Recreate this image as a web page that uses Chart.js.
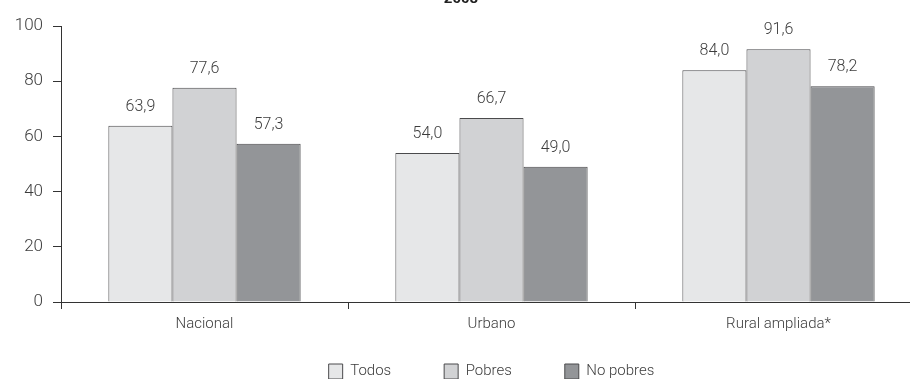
<!DOCTYPE html>
<html>
<head>
<meta charset="utf-8">
<script src="https://cdn.jsdelivr.net/npm/chart.js@4.4.1/dist/chart.umd.min.js"></script>
<style>
  html, body { margin: 0; padding: 0; background: #fff; overflow: hidden; width: 910px; height: 379px; }
  #wrap { position: absolute; left: 0; top: -10px; width: 934px; height: 427px; }
</style>
</head>
<body>
<div id="wrap"><canvas id="c"></canvas></div>
<script>
const titleText = '2008';
const categories = ['Nacional', 'Urbano', 'Rural ampliada*'];
const seriesNames = ['Todos', 'Pobres', 'No pobres'];
const todos = [63.9, 54.0, 84.0];
const pobres = [77.6, 66.7, 91.6];
const noPobres = [57.3, 49.0, 78.2];
const yMin = 0, yMax = 100, yStep = 20;

const FONT = 'Roboto';
const TEXT = '#3c3c3c';
const fills = ['#e6e7e8', '#d1d2d4', '#939598'];
const edge = '#4a4a4c';

const valueLabels = {
  id: 'valueLabels',
  afterDatasetsDraw(chart) {
    const ctx = chart.ctx;
    ctx.save();
    ctx.font = '300 16px ' + FONT;
    ctx.fillStyle = TEXT;
    ctx.textAlign = 'center';
    ctx.textBaseline = 'alphabetic';
    chart.data.datasets.forEach((ds, i) => {
      chart.getDatasetMeta(i).data.forEach((bar, j) => {
        ctx.fillText(ds.data[j].toFixed(1).replace('.', ','), bar.x, bar.y - 15);
      });
    });
    ctx.restore();
  }
};

// move the legend row up so it sits closer to the category labels
const legendShift = {
  id: 'legendShift',
  afterLayout(chart) {
    const lg = chart.legend;
    if (!lg) return;
    const h = lg.height;
    lg.top = chart.scales.x.top + 9;
    lg.bottom = lg.top + h;
  }
};

const seriesData = [todos, pobres, noPobres];
new Chart(document.getElementById('c'), {
  type: 'bar',
  data: {
    labels: categories,
    datasets: seriesNames.map((name, i) => ({
      label: name,
      data: seriesData[i],
      backgroundColor: fills[i],
      borderColor: edge,
      borderWidth: 1,
      categoryPercentage: 0.67,
      barPercentage: 1.0
    }))
  },
  options: {
    responsive: true,
    maintainAspectRatio: false,
    animation: false,
    layout: { padding: { left: 0, right: 12, top: 0, bottom: 0 } },
    plugins: {
      title: {
        display: true,
        text: titleText,
        color: '#222',
        font: { family: FONT, size: 15, weight: 'bold' },
        padding: { top: 0, bottom: 18 }
      },
      legend: {
        position: 'bottom',
        fullSize: false,
        labels: {
          color: TEXT,
          font: { family: FONT, size: 15, weight: 300 },
          boxWidth: 14,
          boxHeight: 15,
          padding: 53
        }
      },
      tooltip: { enabled: false }
    },
    scales: {
      x: {
        grid: { display: true, drawOnChartArea: false, drawTicks: true, tickLength: 7, color: '#333', offset: true },
        border: { display: true, color: '#333', width: 1 },
        ticks: { color: TEXT, font: { family: FONT, size: 15, weight: 300 }, padding: 6 }
      },
      y: {
        min: yMin, max: yMax,
        afterFit: (s) => { s.width = 61; },
        grid: { display: true, drawOnChartArea: false, drawTicks: true, tickLength: 8, color: '#333' },
        border: { display: true, color: '#333', width: 1 },
        ticks: { stepSize: yStep, color: TEXT, font: { family: FONT, size: 17, weight: 300 }, padding: 10 }
      }
    }
  },
  plugins: [valueLabels, legendShift]
});
</script>
</body>
</html>
